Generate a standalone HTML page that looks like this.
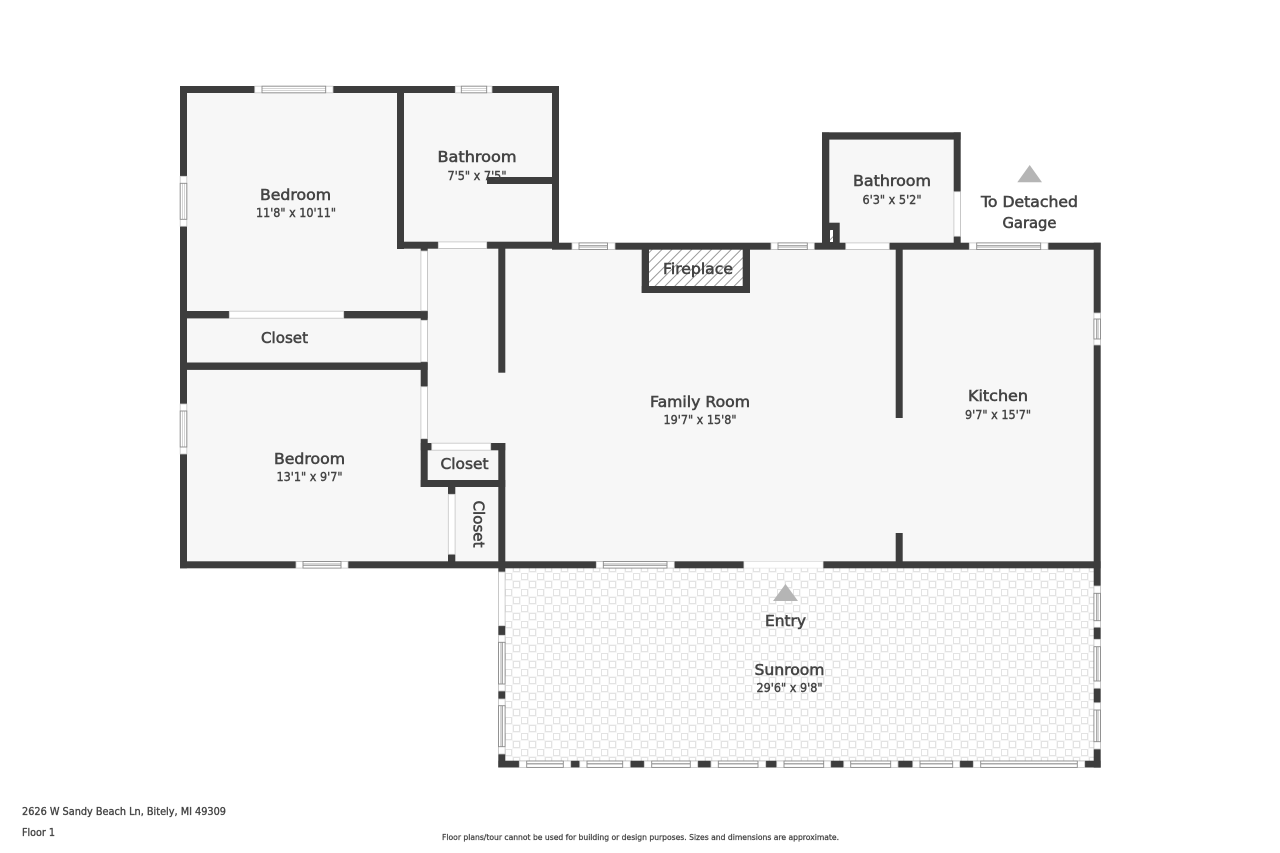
<!DOCTYPE html>
<html><head><meta charset="utf-8"><style>
html,body{margin:0;padding:0;background:#fff}
svg{display:block}
text{font-family:"DejaVu Sans","Liberation Sans",sans-serif;fill:#444;stroke:#444;stroke-width:.55;text-anchor:middle}
.t{font-size:15px}.d{font-size:12px;stroke-width:.4}
.w{fill:#3d3d3d}
.o{fill:#fff;stroke:#c4c4c4;stroke-width:.8}
.sh{fill:url(#gh);stroke:#8a8a8a;stroke-width:.9}
.sv{fill:url(#gv);stroke:#8a8a8a;stroke-width:.9}
</style></head><body>
<svg width="1280" height="853" viewBox="0 0 1280 853" xmlns="http://www.w3.org/2000/svg">
<defs>
<linearGradient id="gh" x1="0" y1="0" x2="0" y2="1">
<stop offset="0" stop-color="#fff"/><stop offset=".34" stop-color="#fff"/><stop offset=".34" stop-color="#aaa"/><stop offset=".44" stop-color="#aaa"/><stop offset=".44" stop-color="#fff"/><stop offset=".56" stop-color="#fff"/><stop offset=".56" stop-color="#aaa"/><stop offset=".66" stop-color="#aaa"/><stop offset=".66" stop-color="#fff"/><stop offset="1" stop-color="#fff"/>
</linearGradient>
<linearGradient id="gv" x1="0" y1="0" x2="1" y2="0">
<stop offset="0" stop-color="#fff"/><stop offset=".34" stop-color="#fff"/><stop offset=".34" stop-color="#aaa"/><stop offset=".44" stop-color="#aaa"/><stop offset=".44" stop-color="#fff"/><stop offset=".56" stop-color="#fff"/><stop offset=".56" stop-color="#aaa"/><stop offset=".66" stop-color="#aaa"/><stop offset=".66" stop-color="#fff"/><stop offset="1" stop-color="#fff"/>
</linearGradient>
<pattern id="tile" x="505" y="573" width="16" height="16" patternUnits="userSpaceOnUse">
<rect width="16" height="16" fill="#fff"/>
<rect x=".5" y=".5" width="6" height="6" fill="#fff" stroke="#e0e0e0" stroke-width=".9"/>
<rect x="8.5" y="8.5" width="6" height="6" fill="#fff" stroke="#e0e0e0" stroke-width=".9"/>
<rect x="-.4" y="-.4" width="7.8" height="7.8" fill="none" stroke="#f0f0f0" stroke-width=".6"/>
<rect x="7.6" y="7.6" width="7.8" height="7.8" fill="none" stroke="#f0f0f0" stroke-width=".6"/>
</pattern>
<pattern id="hatch" width="7" height="7" patternUnits="userSpaceOnUse" patternTransform="rotate(45)">
<rect width="7" height="7" fill="#fff"/><rect x="0" width="1" height="7" fill="#9a9a9a"/>
</pattern>
</defs>
<rect width="1280" height="853" fill="#fff"/>

<!-- floors -->
<path fill="#f7f7f7" d="M183 90H555V245H1097V565H183Z"/>
<rect x="826" y="136" width="131" height="110" fill="#f7f7f7"/>
<rect x="502" y="565" width="595" height="199" fill="url(#tile)"/>
<rect x="649" y="249" width="94" height="37" fill="url(#hatch)"/>

<!-- walls -->
<g class="w">
<rect x="180" y="86" width="378.7" height="7"/>
<rect x="180" y="86" width="7" height="482.3"/>
<rect x="397" y="86" width="7" height="163"/>
<rect x="552" y="86" width="7" height="163"/>
<rect x="397" y="241.7" width="161" height="7"/>
<rect x="487" y="177" width="65" height="7"/>
<rect x="180" y="311" width="247.7" height="7.4"/>
<rect x="180" y="362.5" width="247.7" height="7.4"/>
<rect x="420.7" y="242" width="7" height="245"/>
<rect x="420.7" y="443" width="84.6" height="7.3"/>
<rect x="498.3" y="248" width="7" height="124.7"/>
<rect x="498.3" y="443" width="7" height="125"/>
<rect x="420.7" y="480" width="84.6" height="7"/>
<rect x="448" y="487" width="7.3" height="75"/>
<rect x="180" y="561.3" width="920.7" height="7"/>
<rect x="552" y="242.7" width="548.7" height="7"/>
<rect x="1093.7" y="242.7" width="7" height="525"/>
<rect x="822" y="132.3" width="7.3" height="117"/>
<rect x="822" y="132.3" width="138.7" height="7.3"/>
<rect x="953.7" y="132.3" width="7" height="117"/>
<rect x="829" y="222.7" width="10.7" height="24"/>
<rect x="641.7" y="249" width="7.3" height="44"/>
<rect x="742.7" y="249" width="7.3" height="44"/>
<rect x="641.7" y="286" width="108.3" height="7"/>
<rect x="895.7" y="249" width="7" height="169"/>
<rect x="895.7" y="533" width="7" height="30"/>
<rect x="498.3" y="568" width="7" height="199.3"/>
<rect x="498.3" y="760.7" width="602.4" height="6.8"/>
</g>
<rect x="830" y="230" width="3" height="12" fill="url(#hatch)"/>

<!-- openings -->
<g class="o">
<rect x="438.3" y="241.9" width="48.4" height="6.6"/>
<rect x="420.9" y="251" width="6.6" height="59.7"/>
<rect x="420.9" y="320.3" width="6.6" height="41.4"/>
<rect x="420.9" y="386.7" width="6.6" height="52"/>
<rect x="229.3" y="311.2" width="114.4" height="7"/>
<rect x="431.7" y="443.2" width="59" height="7"/>
<rect x="448.3" y="494.3" width="6.8" height="60"/>
<rect x="498.5" y="572" width="6.6" height="53.7"/>
<rect x="744" y="561.5" width="79" height="6.6" style="stroke:#e6e6e6"/>
<rect x="845.7" y="242.9" width="43.6" height="6.6"/>
<rect x="953.9" y="191.7" width="6.6" height="44.6"/>
</g>

<!-- horizontal windows -->
<g class="o">
<rect x="254.7" y="86.2" width="78.3" height="6.6"/>
<rect x="455.3" y="86.2" width="36.7" height="6.6"/>
<rect x="572" y="242.9" width="43" height="6.6"/>
<rect x="771" y="242.9" width="43.3" height="6.6"/>
<rect x="969.3" y="242.9" width="78.7" height="6.6"/>
<rect x="296" y="561.5" width="52" height="6.6"/>
<rect x="596.3" y="561.5" width="78" height="6.6"/>
<rect x="519.3" y="761" width="51.4" height="6.4"/>
<rect x="579.7" y="761" width="50.6" height="6.4"/>
<rect x="644.3" y="761" width="53.4" height="6.4"/>
<rect x="711" y="761" width="54.7" height="6.4"/>
<rect x="776.7" y="761" width="54" height="6.4"/>
<rect x="843.7" y="761" width="54.3" height="6.4"/>
<rect x="912.7" y="761" width="47" height="6.4"/>
<rect x="973.3" y="761" width="111.4" height="6.4"/>
</g>
<g class="sh">
<rect x="262" y="86.2" width="63.7" height="6.6"/>
<rect x="461.3" y="86.2" width="25.4" height="6.6"/>
<rect x="579" y="242.9" width="28.5" height="6.6"/>
<rect x="778" y="242.9" width="29.3" height="6.6"/>
<rect x="976.7" y="242.9" width="64" height="6.6"/>
<rect x="303" y="561.5" width="38" height="6.6"/>
<rect x="603.3" y="561.5" width="63.7" height="6.6"/>
<rect x="526.7" y="761" width="36.6" height="6.4"/>
<rect x="587" y="761" width="35.7" height="6.4"/>
<rect x="651.7" y="761" width="38.6" height="6.4"/>
<rect x="718.3" y="761" width="39.7" height="6.4"/>
<rect x="784" y="761" width="39.7" height="6.4"/>
<rect x="850.7" y="761" width="40" height="6.4"/>
<rect x="920" y="761" width="32.7" height="6.4"/>
<rect x="980.7" y="761" width="96.6" height="6.4"/>
</g>

<!-- vertical windows -->
<g class="o">
<rect x="180.2" y="176.3" width="6.6" height="50"/>
<rect x="180.2" y="404" width="6.6" height="50"/>
<rect x="1093.9" y="313" width="6.6" height="32"/>
<rect x="498.5" y="635.3" width="6.6" height="55.7"/>
<rect x="498.5" y="699" width="6.6" height="55"/>
<rect x="1093.9" y="586" width="6.6" height="41.3"/>
<rect x="1093.9" y="639.3" width="6.6" height="49"/>
<rect x="1093.9" y="702.7" width="6.6" height="46.3"/>
</g>
<g class="sv">
<rect x="180.2" y="183.3" width="6.6" height="36"/>
<rect x="180.2" y="411" width="6.6" height="36"/>
<rect x="1093.9" y="319" width="6.6" height="20"/>
<rect x="498.5" y="642.3" width="6.6" height="41.7"/>
<rect x="498.5" y="705.7" width="6.6" height="41"/>
<rect x="1093.9" y="593.3" width="6.6" height="27.4"/>
<rect x="1093.9" y="646.7" width="6.6" height="34.3"/>
<rect x="1093.9" y="710" width="6.6" height="31.7"/>
</g>

<!-- triangles -->
<polygon points="1017.3,182.3 1042,182.3 1029.7,165" fill="#b5b5b5"/>
<polygon points="773,601 798,601 785.5,584" fill="#b5b5b5"/>

<!-- labels -->
<text class="t" x="295.5" y="200" textLength="71" lengthAdjust="spacingAndGlyphs">Bedroom</text>
<text class="d" x="296" y="217" textLength="80" lengthAdjust="spacingAndGlyphs">11'8" x 10'11"</text>
<text class="t" x="477" y="162" textLength="79" lengthAdjust="spacingAndGlyphs">Bathroom</text>
<text class="d" x="477" y="180" textLength="59" lengthAdjust="spacingAndGlyphs">7'5" x 7'5"</text>
<text class="t" x="284.5" y="343" textLength="47" lengthAdjust="spacingAndGlyphs">Closet</text>
<text class="t" x="309.5" y="464" textLength="71" lengthAdjust="spacingAndGlyphs">Bedroom</text>
<text class="d" x="309.5" y="481" textLength="66" lengthAdjust="spacingAndGlyphs">13'1" x 9'7"</text>
<text class="t" x="464.5" y="469" textLength="48" lengthAdjust="spacingAndGlyphs">Closet</text>
<text class="t" transform="translate(473.5,524) rotate(90)" x="0" y="0" textLength="47" lengthAdjust="spacingAndGlyphs">Closet</text>
<text class="t" x="700" y="407" textLength="100" lengthAdjust="spacingAndGlyphs">Family Room</text>
<text class="d" x="700" y="424" textLength="73" lengthAdjust="spacingAndGlyphs">19'7" x 15'8"</text>
<text class="t" x="998" y="401" textLength="60" lengthAdjust="spacingAndGlyphs">Kitchen</text>
<text class="d" x="998" y="419" textLength="66" lengthAdjust="spacingAndGlyphs">9'7" x 15'7"</text>
<text class="t" x="789.5" y="675" textLength="70" lengthAdjust="spacingAndGlyphs">Sunroom</text>
<text class="d" x="789.5" y="692" textLength="66" lengthAdjust="spacingAndGlyphs">29'6" x 9'8"</text>
<text class="t" x="785.5" y="626" textLength="41" lengthAdjust="spacingAndGlyphs">Entry</text>
<text class="t" x="698" y="274" textLength="70" lengthAdjust="spacingAndGlyphs">Fireplace</text>
<text class="t" x="892" y="186" textLength="78" lengthAdjust="spacingAndGlyphs">Bathroom</text>
<text class="d" x="892" y="204" textLength="59" lengthAdjust="spacingAndGlyphs">6'3" x 5'2"</text>
<text class="t" x="1029.5" y="207" textLength="97" lengthAdjust="spacingAndGlyphs">To Detached</text>
<text class="t" x="1029.5" y="228" textLength="54" lengthAdjust="spacingAndGlyphs">Garage</text>
<text x="22" y="815" font-size="10.5" style="text-anchor:start;stroke-width:.35" textLength="204" lengthAdjust="spacingAndGlyphs">2626 W Sandy Beach Ln, Bitely, MI 49309</text>
<text x="22" y="836" font-size="10.5" style="text-anchor:start;stroke-width:.35" textLength="33" lengthAdjust="spacingAndGlyphs">Floor 1</text>
<text x="640.5" y="840" font-size="8" style="stroke-width:.28" textLength="397" lengthAdjust="spacingAndGlyphs">Floor plans/tour cannot be used for building or design purposes. Sizes and dimensions are approximate.</text>
</svg>
</body></html>
